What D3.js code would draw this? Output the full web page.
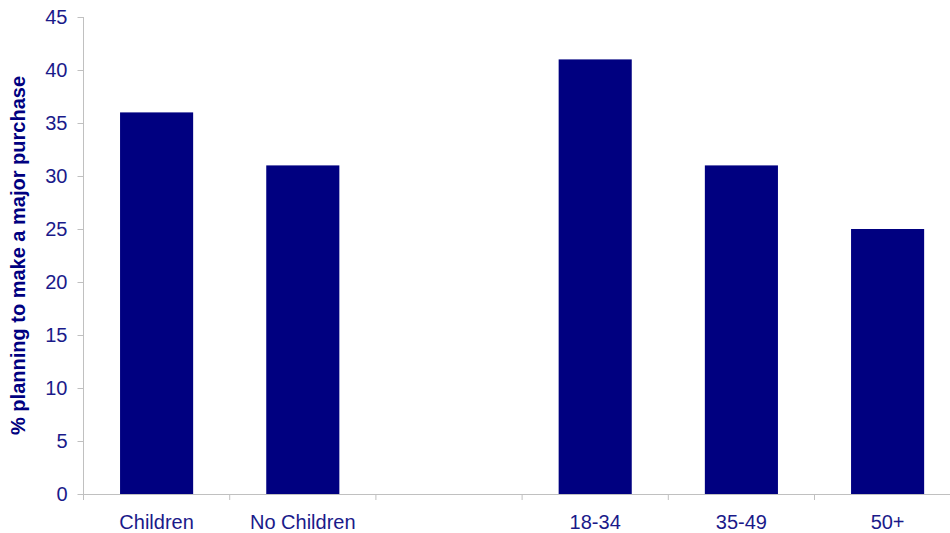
<!DOCTYPE html>
<html>
<head>
<meta charset="utf-8">
<script src="https://cdn.jsdelivr.net/npm/d3@7"></script>
<style>
  html, body { margin: 0; padding: 0; background: #fff; }
  svg { display: block; font-family: "Liberation Sans", Arial, sans-serif; }
</style>
</head>
<body>
<svg id="chart" width="950" height="533"></svg>
<script>
// Share planning a major purchase, by household type and age group
const categories = ["Children", "No Children", "", "18-34", "35-49", "50+"];
const values = [36, 31, null, 41, 31, 25];
const yTicks = [0, 5, 10, 15, 20, 25, 30, 35, 40, 45];

const svg = d3.select("#chart");
const plotLeft = 83.5, plotBottom = 494, plotTop = 17, bandStep = 146.2;
const plotRight = plotLeft + bandStep * categories.length;

const x = d3.scaleBand().domain(categories.map((c, i) => i)).range([plotLeft, plotRight]).padding(0);
const y = d3.scaleLinear().domain([0, 45]).range([plotBottom, plotTop]);

const navy = "#000080";
const textCol = "#1a1a8a";
const gridCol = "#c0c0c0";

// Bars
svg.append("g").selectAll("rect")
  .data(values.map((v, i) => ({ v, i })).filter(d => d.v !== null))
  .join("rect")
  .attr("x", d => x(d.i) + x.bandwidth() * 0.25)
  .attr("width", x.bandwidth() * 0.5)
  .attr("y", d => y(d.v))
  .attr("height", d => y(0) - y(d.v))
  .attr("fill", navy);

// Y axis
const yAxis = svg.append("g")
  .attr("transform", `translate(${plotLeft},0)`)
  .call(d3.axisLeft(y).tickValues(yTicks).tickSize(6).tickPadding(10));
yAxis.select(".domain").attr("stroke", gridCol).attr("d", `M0,${plotBottom}V${plotTop}`);
yAxis.selectAll(".tick line").attr("stroke", gridCol);
yAxis.selectAll(".tick text").attr("fill", textCol).style("font-size", "20px");

// X axis
const xAxis = svg.append("g")
  .attr("transform", `translate(0,${plotBottom})`);
xAxis.append("line")
  .attr("x1", plotLeft).attr("x2", plotRight).attr("y1", 0.5).attr("y2", 0.5)
  .attr("stroke", gridCol);
xAxis.selectAll("line.tk")
  .data(d3.range(categories.length + 1))
  .join("line").attr("class", "tk")
  .attr("x1", i => plotLeft + i * x.step()).attr("x2", i => plotLeft + i * x.step())
  .attr("y1", 0).attr("y2", 6)
  .attr("stroke", gridCol);
xAxis.selectAll("text")
  .data(categories.map((c, i) => ({ c, i })))
  .join("text")
  .attr("x", d => x(d.i) + x.bandwidth() / 2)
  .attr("y", 35)
  .attr("text-anchor", "middle")
  .attr("fill", textCol)
  .style("font-size", "20px")
  .text(d => d.c);

// Y axis title
svg.append("text")
  .attr("transform", `translate(25,${(plotTop + plotBottom) / 2}) rotate(-90)`)
  .attr("text-anchor", "middle")
  .attr("fill", navy)
  .style("font-size", "20px")
  .style("font-weight", "bold")
  .text("% planning to make a major purchase");
</script>
</body>
</html>
